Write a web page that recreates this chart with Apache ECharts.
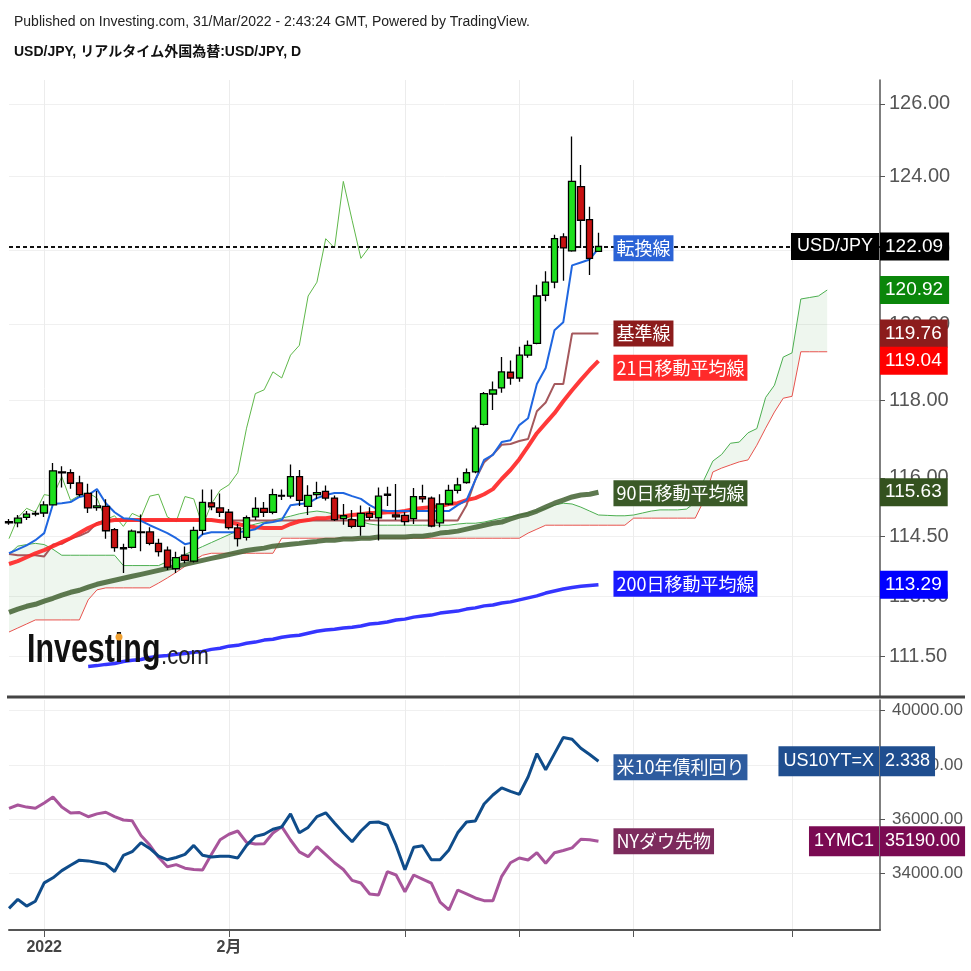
<!DOCTYPE html>
<html><head><meta charset="utf-8">
<script src="https://cdn.jsdelivr.net/npm/echarts@6/dist/echarts.min.js"></script>
<style>html,body{margin:0;padding:0;background:#fff}#c{width:971px;height:971px}</style>
</head><body><div id="c"></div>
<script>
const categories = [
'2021-12-28','2021-12-29','2021-12-30','2021-12-31',
'2022-01-03','2022-01-04','2022-01-05','2022-01-06','2022-01-07',
'2022-01-10','2022-01-11','2022-01-12','2022-01-13','2022-01-14',
'2022-01-17','2022-01-18','2022-01-19','2022-01-20','2022-01-21',
'2022-01-24','2022-01-25','2022-01-26','2022-01-27','2022-01-28',
'2022-01-31','2022-02-01','2022-02-02','2022-02-03','2022-02-04',
'2022-02-07','2022-02-08','2022-02-09','2022-02-10','2022-02-11',
'2022-02-14','2022-02-15','2022-02-16','2022-02-17','2022-02-18',
'2022-02-21','2022-02-22','2022-02-23','2022-02-24','2022-02-25',
'2022-02-28','2022-03-01','2022-03-02','2022-03-03','2022-03-04',
'2022-03-07','2022-03-08','2022-03-09','2022-03-10','2022-03-11',
'2022-03-14','2022-03-15','2022-03-16','2022-03-17','2022-03-18',
'2022-03-21','2022-03-22','2022-03-23','2022-03-24','2022-03-25',
'2022-03-28','2022-03-29','2022-03-30','2022-03-31','2022-04-01',
'2022-04-04','2022-04-05','2022-04-06','2022-04-07','2022-04-08',
'2022-04-11','2022-04-12','2022-04-13','2022-04-14','2022-04-15',
'2022-04-18','2022-04-19','2022-04-20','2022-04-21','2022-04-22',
'2022-04-25','2022-04-26','2022-04-27','2022-04-28','2022-04-29',
'2022-05-02','2022-05-03','2022-05-04','2022-05-05','2022-05-06',
'2022-05-09','2022-05-10','2022-05-11','2022-05-12','2022-05-13',
'2022-05-16'];
const tickIndex = [4, 25, 45, 58, 71, 89];
const tickLabels = ['2022', '2月', '', '', '', ''];
const priceTicks = [111.5, 113, 114.5, 116, 118, 120, 122, 124, 126];
const dowTicks = [34000, 36000, 38000, 40000];

// [open, close, low, high]
const candles = [
[114.85,114.88,114.80,114.95],[114.85,114.97,114.74,115.05],[114.99,115.07,114.92,115.15],[115.07,115.09,115.02,115.16],
[115.10,115.31,115.00,115.40],[115.31,116.18,115.30,116.38],[116.15,116.13,115.75,116.30],[116.13,115.86,115.72,116.22],
[115.87,115.57,115.52,116.05],[115.60,115.23,115.10,115.85],[115.24,115.28,115.16,115.66],[115.27,114.65,114.45,115.45],
[114.68,114.22,114.12,114.72],[114.22,114.19,113.58,114.32],[114.23,114.64,114.20,114.68],[114.62,114.60,114.13,115.06],
[114.62,114.33,114.28,114.74],[114.33,114.12,114.00,114.45],[114.16,113.73,113.66,114.25],[113.69,113.97,113.58,114.12],
[114.03,113.90,113.83,114.25],[113.88,114.66,113.85,114.75],[114.66,115.37,114.55,115.70],[115.36,115.26,115.17,115.70],
[115.23,115.12,115.00,115.60],[115.12,114.73,114.68,115.20],[114.72,114.45,114.25,114.82],[114.48,114.98,114.40,115.04],
[115.00,115.22,114.92,115.50],[115.22,115.12,115.00,115.38],[115.12,115.57,115.07,115.72],[115.55,115.53,115.43,115.70],
[115.53,116.03,115.47,116.34],[116.03,115.42,115.28,116.20],[115.27,115.55,115.05,115.81],[115.57,115.62,115.46,115.90],
[115.65,115.48,115.42,115.80],[115.48,114.93,114.90,115.55],[114.96,115.03,114.80,115.33],[114.93,114.76,114.71,115.18],
[114.76,115.09,114.52,115.29],[115.09,114.99,114.92,115.25],[114.98,115.53,114.40,115.75],[115.55,115.58,115.28,115.77],
[115.05,115.00,114.92,115.84],[115.04,114.88,114.78,115.12],[114.96,115.52,114.82,115.74],[115.52,115.46,115.37,115.82],
[115.48,114.77,114.74,115.52],[114.85,115.33,114.74,115.58],[115.33,115.68,115.30,115.82],[115.68,115.82,115.60,116.00],
[115.88,116.13,115.85,116.24],[116.15,117.28,116.12,117.35],[117.38,118.18,117.35,118.22],[118.17,118.28,117.75,118.50],
[118.33,118.75,118.20,119.14],[118.74,118.59,118.41,119.05],[118.59,119.19,118.49,119.41],[119.19,119.45,119.12,119.58],
[119.50,120.76,119.48,121.06],[120.78,121.13,120.62,121.42],[121.13,122.30,120.97,122.41],[122.35,122.05,121.17,122.45],
[121.97,123.86,121.95,125.10],[123.72,122.80,122.05,124.31],[122.82,121.77,121.32,123.17],[121.96,122.09,121.97,122.46]];

const tenkan = [114.08,114.18,114.28,114.41,114.59,115.33,115.35,115.38,115.51,115.56,
115.71,115.35,115.12,114.97,114.95,114.90,114.79,114.69,114.59,114.46,
114.31,114.36,114.56,114.61,114.61,114.61,114.61,114.64,114.69,114.84,
114.87,114.92,115.30,115.33,115.35,115.48,115.56,115.61,115.61,115.53,
115.46,115.30,115.18,115.15,115.15,115.15,115.15,115.15,115.15,115.15,
115.15,115.30,115.43,115.94,116.46,116.59,116.92,116.97,117.36,117.54,
118.43,118.85,119.85,120.06,121.58,121.66,121.74,122.04];

const kijun = [114.06,114.03,114.03,114.03,114.00,114.30,114.32,114.45,114.52,114.62,
114.85,114.91,114.91,114.91,114.91,114.91,114.91,114.91,114.91,114.91,
114.91,114.91,114.91,114.91,114.91,114.91,114.91,114.91,114.91,114.91,
114.91,114.91,114.91,114.91,114.91,114.91,114.91,114.91,114.91,114.91,
114.91,114.91,114.91,114.91,114.91,114.91,114.91,114.91,114.91,114.91,
114.91,114.91,115.30,115.95,116.40,116.60,116.85,116.87,116.95,117.00,
117.72,117.95,118.43,118.43,119.76,119.76,119.76,119.76];

const ma21 = [113.81,113.88,113.98,114.08,114.16,114.26,114.36,114.46,114.59,114.72,
114.82,114.89,114.92,114.92,114.92,114.92,114.92,114.92,114.92,114.92,
114.92,114.92,114.92,114.92,114.89,114.87,114.82,114.77,114.74,114.72,
114.72,114.72,114.82,114.89,114.92,114.97,114.97,115.00,115.02,115.05,
115.07,115.10,115.10,115.12,115.12,115.15,115.20,115.23,115.25,115.28,
115.33,115.35,115.43,115.48,115.58,115.71,115.97,116.20,116.48,116.81,
117.15,117.41,117.67,117.98,118.27,118.54,118.80,119.04];

const ma90 = [112.60,112.68,112.75,112.80,112.88,112.95,113.03,113.10,113.15,113.23,
113.30,113.35,113.40,113.45,113.50,113.55,113.60,113.65,113.70,113.75,
113.80,113.85,113.90,113.95,114.00,114.05,114.10,114.15,114.18,114.21,
114.26,114.28,114.31,114.33,114.36,114.38,114.41,114.41,114.44,114.44,
114.46,114.46,114.49,114.49,114.49,114.49,114.51,114.51,114.54,114.59,
114.61,114.64,114.69,114.74,114.79,114.84,114.87,114.95,115.02,115.07,
115.15,115.25,115.35,115.43,115.51,115.56,115.58,115.63];

const ma200 = ['-','-','-','-','-','-','-','-','-',111.26,
111.28,111.31,111.33,111.38,111.41,111.43,111.48,111.51,111.53,111.56,
111.58,111.61,111.63,111.68,111.71,111.76,111.78,111.83,111.86,111.91,
111.93,111.98,112.01,112.03,112.08,112.13,112.16,112.18,112.21,112.23,
112.26,112.31,112.33,112.36,112.41,112.43,112.48,112.51,112.53,112.58,
112.61,112.63,112.68,112.71,112.76,112.78,112.83,112.86,112.91,112.96,
113.01,113.08,113.13,113.18,113.22,113.25,113.27,113.29];

const chikou = [114.45,114.98,115.22,115.12,115.57,115.53,116.03,115.42,115.55,115.62,
115.48,114.93,115.03,114.76,115.09,114.99,115.53,115.58,115.00,114.88,
115.52,115.46,114.77,115.33,115.68,115.82,116.13,117.28,118.18,118.28,
118.75,118.59,119.19,119.45,120.76,121.13,122.30,122.05,123.86,122.80,
121.77,122.09];

const senkouA = [114.06,114.26,114.30,114.33,114.30,114.18,114.03,114.03,114.03,114.03,
114.03,114.03,114.03,113.77,113.77,113.77,113.77,113.77,113.87,113.95,
114.05,114.15,114.25,114.35,114.45,114.55,114.65,114.75,114.82,114.87,
114.92,114.97,115.02,115.08,115.12,115.15,115.12,115.07,115.02,114.95,
114.88,114.82,114.79,114.79,114.79,114.79,114.79,114.79,114.79,114.79,
114.79,114.82,114.84,114.84,114.87,114.92,114.97,115.00,115.05,115.10,
115.15,115.22,115.30,115.35,115.33,115.25,115.15,115.05,115.04,115.03,
115.03,115.05,115.10,115.15,115.18,115.18,115.18,115.20,115.37,115.95,
116.43,116.60,116.89,116.92,117.16,117.27,118.08,118.40,119.14,119.25,
120.68,120.72,120.76,120.92];

const senkouB = [112.11,112.21,112.31,112.41,112.41,112.41,112.41,112.41,112.41,112.91,
113.16,113.21,113.21,113.21,113.21,113.21,113.21,113.33,113.46,113.60,
113.75,113.90,114.03,114.08,114.08,114.08,114.08,114.08,114.08,114.08,
114.08,114.46,114.46,114.46,114.46,114.46,114.46,114.46,114.46,114.46,
114.46,114.46,114.46,114.46,114.46,114.46,114.46,114.46,114.46,114.46,
114.46,114.46,114.46,114.46,114.46,114.46,114.46,114.46,114.46,114.59,
114.69,114.79,114.79,114.79,114.79,114.79,114.79,114.79,114.79,114.79,
114.79,114.97,114.97,114.97,114.97,114.97,114.97,114.97,114.97,115.43,
116.15,116.25,116.33,116.41,116.46,116.84,117.28,117.70,118.06,118.11,
119.28,119.28,119.28,119.28];

const dowFutures = [36405,36527,36450,36405,36600,36822,36450,36232,36250,36096,
36200,36260,36100,35975,35950,35400,35050,34600,34255,34330,
34200,34150,34133,34700,35250,35450,35569,35150,35091,35100,
35496,35728,35238,34800,34623,34991,34700,34400,34150,33750,
33654,33250,33212,34070,33949,33334,33949,33800,33650,32950,
32660,33396,33250,33102,33003,33003,33900,34400,34575,34502,
34771,34380,34771,34850,34950,35264,35250,35190];

const us10y = [1.52,1.57,1.533,1.56,1.662,1.69,1.73,1.76,1.788,1.784,
1.775,1.766,1.725,1.814,1.835,1.885,1.853,1.81,1.79,1.803,
1.82,1.87,1.815,1.806,1.81,1.81,1.80,1.87,1.92,1.932,
1.96,1.973,2.045,1.94,1.97,2.03,2.051,1.995,1.94,1.89,
1.95,1.997,2.00,1.983,1.87,1.735,1.86,1.868,1.79,1.79,
1.845,1.94,2.00,2.006,2.10,2.15,2.19,2.17,2.154,2.25,
2.38,2.29,2.38,2.47,2.46,2.41,2.375,2.338];

const FONT = '"Liberation Sans", Arial, "Noto Sans CJK JP", sans-serif';
const CJK = '"Noto Sans CJK JP", "Liberation Sans", sans-serif';
const tickSet = new Set(tickIndex);
const isTick = (i) => tickSet.has(i);
const cloudDiff = senkouA.map((a, i) => +(a - senkouB[i]).toFixed(4));
const lastClose = candles[candles.length - 1][1];

const chart = echarts.init(document.getElementById('c'), null, {renderer: 'canvas'});

function lineSeries(name, data, color, width, extra) {
  return Object.assign({
    type: 'line', name, data, xAxisIndex: 0, yAxisIndex: 0, symbol: 'none',
    silent: true, lineStyle: {color, width}, z: 3
  }, extra || {});
}

const option = {
  animation: false,
  backgroundColor: '#ffffff',
  grid: [
    {left: 9, right: 91, top: 80, height: 617},
    {left: 9, right: 91, top: 700, height: 230}
  ],
  xAxis: [
    {type: 'category', gridIndex: 0, data: categories, boundaryGap: false,
     axisLine: {show: false}, axisTick: {show: false}, axisLabel: {show: false},
     splitLine: {show: true, interval: (i) => isTick(i), lineStyle: {color: '#ececec', width: 1}}},
    {type: 'category', gridIndex: 1, data: categories, boundaryGap: false,
     axisLine: {show: true, onZero: false, lineStyle: {color: '#555', width: 2}},
     axisTick: {show: true, interval: (i) => isTick(i), length: 7, lineStyle: {color: '#555'}},
     axisLabel: {show: true, interval: (i) => isTick(i),
       formatter: (v, i) => { const k = tickIndex.indexOf(i); return k >= 0 ? tickLabels[k] : ''; },
       color: '#444', fontSize: 16, fontWeight: 'bold', margin: 10, fontFamily: FONT},
     splitLine: {show: true, interval: (i) => isTick(i), lineStyle: {color: '#ececec'}}}
  ],
  yAxis: [
    {type: 'log', logBase: 10, gridIndex: 0, position: 'right', min: 110.51, max: 126.67,
     axisLine: {show: true, lineStyle: {color: '#555', width: 1.5}},
     axisTick: {show: true, customValues: priceTicks, length: 5, lineStyle: {color: '#555'}},
     axisLabel: {customValues: priceTicks, formatter: (v) => Number(v).toFixed(2),
       color: '#555', fontSize: 20, margin: 9, fontFamily: FONT},
     splitLine: {show: true, lineStyle: {color: '#f0f0f0'}}},
    {type: 'value', gridIndex: 1, position: 'right', min: 31923, max: 40394,
     axisLine: {show: true, lineStyle: {color: '#555', width: 1.5}},
     axisTick: {show: true, customValues: dowTicks, length: 5, lineStyle: {color: '#555'}},
     axisLabel: {customValues: dowTicks, formatter: (v) => Number(v).toFixed(2),
       color: '#555', fontSize: 17, margin: 12, fontFamily: FONT},
     splitLine: {show: true, lineStyle: {color: '#f0f0f0'}}},
    {type: 'value', gridIndex: 1, position: 'right', min: 1.4, max: 2.678, show: false,
     splitLine: {show: false}}
  ],
  series: [
    lineSeries('cloudBase', senkouB, 'rgba(0,0,0,0)', 0, {stack: 'cloud', stackStrategy: 'all', lineStyle: {width: 0, opacity: 0}, z: 1}),
    lineSeries('cloudFill', cloudDiff, 'rgba(0,0,0,0)', 0, {stack: 'cloud', stackStrategy: 'all', lineStyle: {width: 0, opacity: 0},
      areaStyle: {color: 'rgba(67,160,71,0.13)'}, z: 1}),
    lineSeries('先行スパン2', senkouB, '#e8544f', 1, {z: 2}),
    lineSeries('先行スパン1', senkouA, '#4caf50', 1, {z: 2}),
    lineSeries('遅行スパン', chikou, '#5fb84a', 1, {z: 2}),
    lineSeries('200日移動平均線', ma200, '#3535ff', 3.5, {z: 3}),
    lineSeries('90日移動平均線', ma90, 'rgba(72,102,56,0.88)', 5, {z: 3}),
    lineSeries('基準線', kijun, '#a5585c', 2, {z: 4}),
    lineSeries('21日移動平均線', ma21, 'rgba(255,40,40,0.92)', 4, {z: 4}),
    lineSeries('転換線', tenkan, '#1f66e0', 2, {z: 5}),
    {type: 'candlestick', name: 'USD/JPY', xAxisIndex: 0, yAxisIndex: 0, data: candles, barWidth: 7, z: 6, silent: true,
     itemStyle: {color: '#1ee01e', color0: '#c81010', borderColor: '#000', borderColor0: '#000', borderWidth: 1.3},
     markLine: {silent: true, symbol: ['none', 'none'], label: {show: false},
       lineStyle: {color: '#111', type: [4, 3], width: 2}, data: [{yAxis: lastClose}]}},
    {type: 'line', name: 'NYダウ先物', xAxisIndex: 1, yAxisIndex: 1, data: dowFutures, symbol: 'none', silent: true,
     lineStyle: {color: '#a8559b', width: 3}},
    {type: 'line', name: '米10年債利回り', xAxisIndex: 1, yAxisIndex: 2, data: us10y, symbol: 'none', silent: true,
     lineStyle: {color: '#0f4c8a', width: 3}}
  ]
};
chart.setOption(option);

// ---- decorations tied to the data via the chart's own scales ----
const last = (arr) => { for (let i = arr.length - 1; i >= 0; i--) if (arr[i] !== '-') return [i, arr[i]]; };
const pt = (grid, idx, val, yAxisIndex) => chart.convertToPixel({xAxisIndex: grid, yAxisIndex}, [idx, val]);
const axisX = pt(0, categories.length - 1, 120, 0)[0];

function tag(x, y, text, bg, align, font, pad) {
  return {type: 'text', x, y, z: 100, silent: true,
    style: {text, font: font || ('19px ' + FONT), fill: '#fff', backgroundColor: bg,
      padding: pad || [5, 6, 4, 5], align: align || 'left', verticalAlign: 'middle'}};
}
const g = [];
const inPlot = [
  ['転換線', tenkan, '#2b63d6', 0],
  ['基準線', kijun, '#8c1c1c', 0],
  ['21日移動平均線', ma21, '#ff2a2a', 7],
  ['90日移動平均線', ma90, '#3b5a28', 1],
  ['200日移動平均線', ma200, '#1a1aff', -1]
];
inPlot.forEach(([t, arr, bg, dy]) => {
  const [i, v] = last(arr);
  const p = pt(0, i, v, 0);
  g.push(tag(p[0] + 15, p[1] + dy, t, bg, 'left', '18px ' + CJK, [4, 3, 4, 3]));
});
const lastIdx = candles.length - 1;
const pc = pt(0, lastIdx, lastClose, 0);
g.push(tag(axisX - 1, pc[1], 'USD/JPY', '#000', 'right', '18px ' + FONT, [5, 6, 4, 6]));
g.push(tag(axisX, pc[1], lastClose.toFixed(2), '#000'));
const axisTags = [
  [senkouA, '#0a860a'],
  [kijun, '#8c1c1c'],
  [ma21, '#ff0000'],
  [ma90, '#34521f'],
  [ma200, '#0000ff']
];
axisTags.forEach(([arr, bg]) => {
  const [i, v] = last(arr);
  const p = pt(0, i, v, 0);
  g.push(tag(axisX, p[1], v.toFixed(2), bg));
});
const [iy, vy] = last(us10y);
const py = pt(1, iy, vy, 2);
g.push(tag(py[0] + 15, py[1] + 6, '米10年債利回り', '#2e5c9f', 'left', '18px ' + CJK, [4, 3, 4, 3]));
g.push(tag(axisX - 1, py[1], 'US10YT=X', '#1f4e8f', 'right', '18px ' + FONT, [6, 5, 6, 5]));
g.push(tag(axisX, py[1], vy.toFixed(3), '#1f4e8f', 'left', '18px ' + FONT, [6, 5, 6, 5]));
const [idw, vdw] = last(dowFutures);
const pd = pt(1, idw, vdw, 1);
g.push(tag(pd[0] + 15, pd[1], 'NYダウ先物', '#7d2b5d', 'left', '18px ' + CJK, [4, 3, 4, 3]));
g.push(tag(axisX - 1, pd[1], '1YMC1', '#7a0a52', 'right', '18px ' + FONT, [6, 5, 6, 5]));
g.push(tag(axisX, pd[1], vdw.toFixed(2), '#7a0a52', 'left', '18px ' + FONT, [6, 5, 6, 5]));

g.push({type: 'text', x: 14, y: 22, silent: true, style: {text: 'Published on Investing.com, 31/Mar/2022 - 2:43:24 GMT, Powered by TradingView.',
  font: '14px ' + FONT, fill: '#222', verticalAlign: 'middle'}});
g.push({type: 'text', x: 14, y: 52, silent: true, style: {text: 'USD/JPY, リアルタイム外国為替:USD/JPY, D',
  font: 'bold 14px ' + FONT, fill: '#111', verticalAlign: 'middle'}});
g.push({type: 'line', silent: true, z: 50, shape: {x1: 7, y1: 697, x2: 965, y2: 697}, style: {stroke: '#444', lineWidth: 3}});
g.push({type: 'text', x: 27, y: 651, silent: true, z: 20, scaleX: 0.76, style: {text: 'Investing',
  font: 'bold 40px ' + FONT, fill: '#111', verticalAlign: 'middle'}});
g.push({type: 'text', x: 161, y: 657, silent: true, z: 20, scaleX: 0.85, style: {text: '.com',
  font: '26px ' + FONT, fill: '#222', verticalAlign: 'middle'}});
g.push({type: 'circle', silent: true, z: 21, shape: {cx: 119, cy: 637, r: 3.5}, style: {fill: '#f0a030'}});

chart.setOption({graphic: g});
</script>
</body></html>
